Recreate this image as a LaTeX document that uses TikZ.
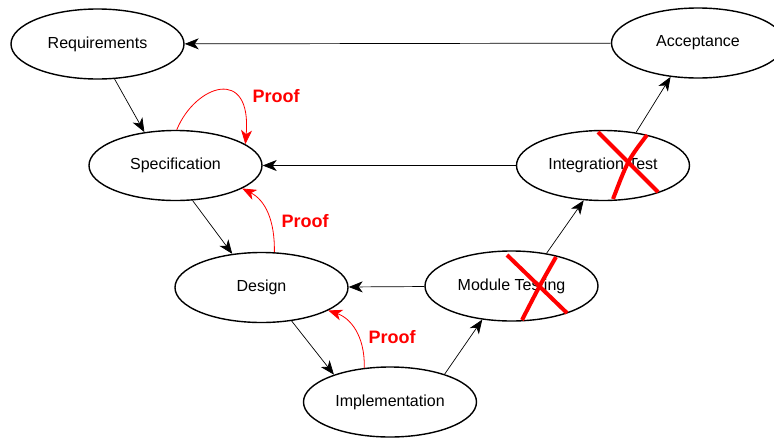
\documentclass[tikz,border=0pt]{standalone}
\usepackage{fontspec}
\setmainfont{Liberation Sans}
\usetikzlibrary{shapes.geometric,arrows.meta}

\begin{document}
\begin{tikzpicture}[x=1pt,y=-1pt]
    \useasboundingbox (0,0) rectangle (774,437);

      \tikzstyle{enode} = [line width=1.4pt, draw=black, ellipse, minimum width=173pt, minimum height=70pt, inner sep=1pt, font=\fontsize{16}{19}\selectfont]
      \tikzstyle{flow} = [-{Stealth[length=14pt,width=11pt,inset=4pt]}, line width=0.7pt]
      \tikzstyle{proof} = [-{Stealth[length=14pt,width=11pt,inset=4pt]}, red, line width=0.8pt]
      \tikzstyle{plabel} = [red, font=\fontsize{18}{21}\selectfont\bfseries]
      \tikzstyle{cross} = [red, line width=4pt]

      \node[enode] (req) at (97.5,44) {Requirements};
      \node[enode] (acc) at (698,43) {Acceptance};
      \node[enode] (spec) at (175.5,165.5) {Specification};
      \node[enode] (integ) at (603,165.5) {Integration Test};
      \node[enode] (design) at (261.5,287.5) {Design};
      \node[enode] (modtest) at (511.5,286) {Module Testing};
      \node[enode] (impl) at (390,402) {Implementation};

      % down the left side
      \draw[flow] (req.-64) -- (spec.133);
      \draw[flow] (spec.-64) -- (design.131);
      \draw[flow] (design.-48) -- (impl.154);
      % up the right side
      \draw[flow] (impl.27) -- (modtest.-131);
      \draw[flow] (modtest.43) -- (integ.-119);
      \draw[flow] (integ.45) -- (acc.-129);
      % back across
      \draw[flow] (acc) -- (req);
      \draw[flow] (integ) -- (spec);
      \draw[flow] (modtest) -- (design);

      % proofs
      \draw[proof] (spec.88) .. controls (195,85) and (252,65) .. (spec.17);
      \node[plabel] (p1) at (276,96) {Proof};
      \draw[proof] (design.70) .. controls (275,220) and (265,200) .. (spec.-19);
      \node[plabel] (p2) at (305,221) {Proof};
      \draw[proof] (impl.127) .. controls (365,335) and (350,318) .. (design.-19);
      \node[plabel] (p3) at (392,337) {Proof};

      % crossed out tests
      \draw[cross] (598,132) -- (658,192);
      \draw[cross] (647,135) .. controls (628,160) .. (613,199);
      \draw[cross] (507,255) -- (567,313);
      \draw[cross] (556,257) .. controls (540,285) .. (522,320);

  \end{tikzpicture}
\end{document}
